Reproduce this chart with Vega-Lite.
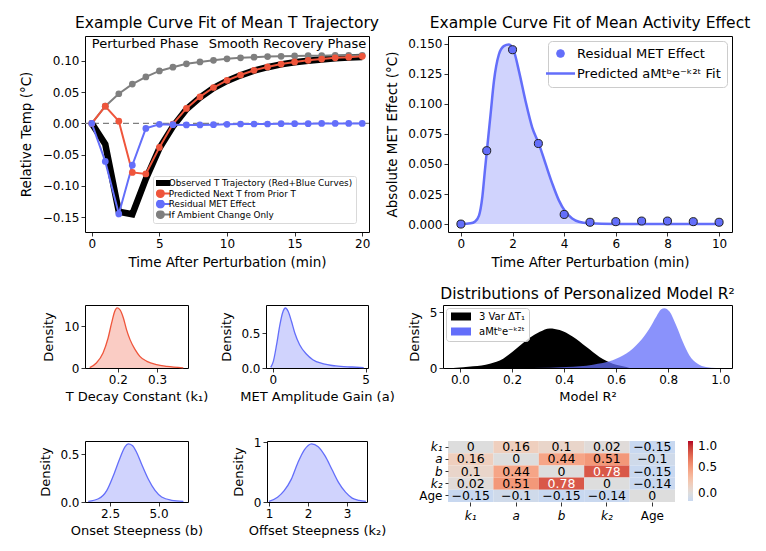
{
"$schema": "https://vega.github.io/schema/vega-lite/v6.json",
"background": "white",
"padding": {"left": 18, "top": 15, "right": 2, "bottom": 2},
"bounds": "flush",
"spacing": 269,
"resolve": {"scale": {"color": "independent"}, "legend": {"color": "independent"}},
"datasets": {
"traj": [
{"t":0,"obs":0,"pred":0,"resid":0,"amb":0},
{"t":1,"obs":-0.0335,"pred":0.0275,"resid":-0.061,"amb":0.0275},
{"t":2,"obs":-0.1415,"pred":0.0035,"resid":-0.145,"amb":0.0475},
{"t":3,"obs":-0.1455,"pred":-0.0785,"resid":-0.067,"amb":0.063},
{"t":4,"obs":-0.089,"pred":-0.081,"resid":-0.008,"amb":0.0745},
{"t":5,"obs":-0.04,"pred":-0.0385,"resid":-0.0015,"amb":0.084},
{"t":6,"obs":-0.005,"pred":-0.001,"resid":-0.002,"amb":0.09},
{"t":7,"obs":0.0225,"pred":0.024,"resid":-0.0025,"amb":0.0955},
{"t":8,"obs":0.0415,"pred":0.0425,"resid":-0.0025,"amb":0.0985},
{"t":9,"obs":0.0565,"pred":0.0575,"resid":-0.002,"amb":0.101},
{"t":10,"obs":0.068,"pred":0.069,"resid":-0.0015,"amb":0.1035},
{"t":11,"obs":0.077,"pred":0.0775,"resid":-0.001,"amb":0.105},
{"t":12,"obs":0.0845,"pred":0.085,"resid":-0.001,"amb":0.106},
{"t":13,"obs":0.09,"pred":0.0905,"resid":-0.001,"amb":0.107},
{"t":14,"obs":0.0945,"pred":0.095,"resid":-0.0005,"amb":0.1075},
{"t":15,"obs":0.098,"pred":0.0985,"resid":-0.0005,"amb":0.108},
{"t":16,"obs":0.1005,"pred":0.101,"resid":-0.0005,"amb":0.1085},
{"t":17,"obs":0.1025,"pred":0.103,"resid":0,"amb":0.1085},
{"t":18,"obs":0.1045,"pred":0.105,"resid":0,"amb":0.109},
{"t":19,"obs":0.1055,"pred":0.106,"resid":0,"amb":0.109},
{"t":20,"obs":0.1065,"pred":0.1075,"resid":0,"amb":0.109}
],
"met": [
{"t":0,"v":0},{"t":1,"v":0.061},{"t":2,"v":0.145},{"t":3,"v":0.067},{"t":4,"v":0.008},{"t":5,"v":0.0015},{"t":6,"v":0.002},{"t":7,"v":0.0025},{"t":8,"v":0.0025},{"t":9,"v":0.002},{"t":10,"v":0.0015}
],
"fit": [
{"t":0,"v":0},{"t":0.37,"v":0.0006},{"t":0.55,"v":0.0022},{"t":0.7,"v":0.007},{"t":0.83,"v":0.0226},{"t":0.93,"v":0.0447},{"t":1.02,"v":0.064},{"t":1.15,"v":0.0915},{"t":1.28,"v":0.119},{"t":1.47,"v":0.141},{"t":1.66,"v":0.148},{"t":1.86,"v":0.1494},{"t":2.05,"v":0.144},{"t":2.25,"v":0.127},{"t":2.5,"v":0.1026},{"t":2.76,"v":0.0805},{"t":3.02,"v":0.0667},{"t":3.28,"v":0.05},{"t":3.54,"v":0.0336},{"t":3.79,"v":0.0199},{"t":4.05,"v":0.0102},{"t":4.31,"v":0.0047},{"t":4.57,"v":0.0019},{"t":4.95,"v":0.0006},{"t":6,"v":0.0001},{"t":8,"v":0},{"t":10,"v":0}
],
"k1": [
{"x":0.128,"y":0.1},{"x":0.145,"y":1.2},{"x":0.162,"y":3.6},{"x":0.175,"y":7.2},{"x":0.184,"y":10.8},{"x":0.192,"y":13.6},{"x":0.198,"y":14.4},{"x":0.205,"y":14.0},{"x":0.214,"y":12.0},{"x":0.222,"y":9.2},{"x":0.231,"y":6.8},{"x":0.244,"y":4.4},{"x":0.256,"y":2.8},{"x":0.274,"y":1.6},{"x":0.299,"y":0.8},{"x":0.325,"y":0.4},{"x":0.367,"y":0.05}
],
"ga": [
{"x":-0.106,"y":0.01},{"x":0.035,"y":0.095},{"x":0.21,"y":0.333},{"x":0.39,"y":0.62},{"x":0.53,"y":0.786},{"x":0.69,"y":0.857},{"x":0.83,"y":0.81},{"x":1.01,"y":0.667},{"x":1.19,"y":0.5},{"x":1.45,"y":0.333},{"x":1.81,"y":0.2},{"x":2.16,"y":0.119},{"x":2.69,"y":0.062},{"x":3.4,"y":0.029},{"x":4.29,"y":0.014},{"x":4.9,"y":0.005}
],
"r2black": [
{"x":-0.026,"y":0},{"x":0.051,"y":0.15},{"x":0.115,"y":0.39},{"x":0.166,"y":0.84},{"x":0.217,"y":1.74},{"x":0.268,"y":2.71},{"x":0.307,"y":3.25},{"x":0.345,"y":3.55},{"x":0.383,"y":3.4},{"x":0.434,"y":2.8},{"x":0.485,"y":1.9},{"x":0.536,"y":0.99},{"x":0.587,"y":0.39},{"x":0.639,"y":0.09},{"x":0.651,"y":0}
],
"r2blue": [
{"x":0.281,"y":0},{"x":0.409,"y":0.09},{"x":0.511,"y":0.3},{"x":0.587,"y":0.69},{"x":0.639,"y":1.29},{"x":0.69,"y":2.35},{"x":0.728,"y":3.55},{"x":0.754,"y":4.6},{"x":0.773,"y":5.27},{"x":0.785,"y":5.36},{"x":0.805,"y":5.06},{"x":0.83,"y":3.85},{"x":0.856,"y":2.35},{"x":0.881,"y":1.15},{"x":0.913,"y":0.39},{"x":0.945,"y":0.09},{"x":0.984,"y":0}
],
"gb": [
{"x":1.38,"y":0.007},{"x":1.9,"y":0.034},{"x":2.33,"y":0.12},{"x":2.67,"y":0.276},{"x":3.02,"y":0.465},{"x":3.27,"y":0.579},{"x":3.44,"y":0.61},{"x":3.65,"y":0.593},{"x":3.88,"y":0.517},{"x":4.13,"y":0.396},{"x":4.47,"y":0.241},{"x":4.82,"y":0.121},{"x":5.16,"y":0.052},{"x":5.68,"y":0.018},{"x":6.28,"y":0.007}
],
"k2": [
{"x":1.0,"y":0.01},{"x":1.22,"y":0.08},{"x":1.39,"y":0.19},{"x":1.57,"y":0.38},{"x":1.74,"y":0.66},{"x":1.91,"y":0.88},{"x":2.09,"y":0.977},{"x":2.26,"y":0.93},{"x":2.44,"y":0.77},{"x":2.61,"y":0.55},{"x":2.78,"y":0.33},{"x":2.96,"y":0.165},{"x":3.13,"y":0.066},{"x":3.31,"y":0.028},{"x":3.48,"y":0.01}
],
"corr": [
{"r":"k₁","c":"k₁","val":0},{"r":"k₁","c":"a","val":0.16},{"r":"k₁","c":"b","val":0.1},{"r":"k₁","c":"k₂","val":0.02},{"r":"k₁","c":"Age","val":-0.15},
{"r":"a","c":"k₁","val":0.16},{"r":"a","c":"a","val":0},{"r":"a","c":"b","val":0.44},{"r":"a","c":"k₂","val":0.51},{"r":"a","c":"Age","val":-0.1},
{"r":"b","c":"k₁","val":0.1},{"r":"b","c":"a","val":0.44},{"r":"b","c":"b","val":0},{"r":"b","c":"k₂","val":0.78},{"r":"b","c":"Age","val":-0.15},
{"r":"k₂","c":"k₁","val":0.02},{"r":"k₂","c":"a","val":0.51},{"r":"k₂","c":"b","val":0.78},{"r":"k₂","c":"k₂","val":0},{"r":"k₂","c":"Age","val":-0.14},
{"r":"Age","c":"k₁","val":-0.15},{"r":"Age","c":"a","val":-0.1},{"r":"Age","c":"b","val":-0.15},{"r":"Age","c":"k₂","val":-0.14},{"r":"Age","c":"Age","val":0}
]
},
"vconcat": [
{
"resolve": {"scale": {"color": "independent"}, "legend": {"color": "independent"}},
"hconcat": [
{
 "width": 284, "height": 196,
 "title": {"text": "Example Curve Fit of Mean T Trajectory", "offset": 5},
 "layer": [
  {"data": {"values": [{"v": 0}]},
   "mark": {"type": "rule", "color": "#7f7f7f", "strokeDash": [6, 4], "strokeWidth": 1.3},
   "encoding": {"y": {"field": "v", "type": "quantitative", "scale": {"domain": [-0.174, 0.14], "nice": false, "zero": false}}}},
  {"data": {"name": "traj"},
   "transform": [{"fold": ["obs"], "as": ["series", "v"]}],
   "mark": {"type": "line", "strokeWidth": 6.5},
   "encoding": {
    "x": {"field": "t", "type": "quantitative", "scale": {"domain": [-0.5, 20.5], "nice": false}, "axis": {"values": [0, 5, 10, 15, 20], "tickCount": 20, "format": "d", "title": "Time After Perturbation (min)", "titlePadding": 6, "titleFontSize": 13.5}},
    "y": {"field": "v", "type": "quantitative", "scale": {"domain": [-0.174, 0.14], "nice": false, "zero": false}, "axis": {"values": [-0.15, -0.1, -0.05, 0, 0.05, 0.1], "tickCount": 20, "format": ".2f", "title": "Relative Temp (°C)", "titlePadding": 9, "titleFontSize": 13.5}},
    "color": {"field": "series", "type": "nominal",
     "scale": {"domain": ["obs", "pred", "resid", "amb"], "range": ["#000000", "#ef553b", "#636efa", "#7f7f7f"]},
     "legend": {"title": null, "orient": "none", "legendX": 68, "legendY": 140, "labelFontSize": 8.8, "labelLimit": 400, "padding": 3, "rowPadding": 1.5, "clipHeight": 8, "fillColor": "rgba(255,255,255,0.85)", "strokeColor": "#d9d9d9", "cornerRadius": 2, "symbolSize": 16, "labelOffset": 4,
      "labelExpr": "datum.label == 'obs' ? 'Observed T Trajectory (Red+Blue Curves)' : datum.label == 'pred' ? 'Predicted Next T from Prior T' : datum.label == 'resid' ? 'Residual MET Effect' : 'If Ambient Change Only'",
      "encode": {"symbols": {"update": {
       "shape": {"signal": "datum.value == 'obs' ? 'M-5,0H5' : 'M-5,0H5M-1.75,0A1.75,1.75,0,1,1,1.75,0A1.75,1.75,0,1,1,-1.75,0Z'"},
       "size": {"value": 16},
       "fill": {"signal": "datum.value == 'obs' ? 'transparent' : datum.value == 'pred' ? '#ef553b' : datum.value == 'resid' ? '#636efa' : '#7f7f7f'"},
       "stroke": {"signal": "datum.value == 'obs' ? '#000000' : datum.value == 'pred' ? '#ef553b' : datum.value == 'resid' ? '#636efa' : '#7f7f7f'"},
       "strokeWidth": {"signal": "datum.value == 'obs' ? 6 : 2"},
       "opacity": {"value": 1}, "fillOpacity": {"value": 1}, "strokeOpacity": {"value": 1}
      }}}}}
   }},
  {"data": {"name": "traj"},
   "transform": [{"fold": ["amb", "pred", "resid"], "as": ["series", "v"]}],
   "mark": {"type": "line", "strokeWidth": 2},
   "encoding": {
    "x": {"field": "t", "type": "quantitative", "scale": {"domain": [-0.5, 20.5], "nice": false}},
    "y": {"field": "v", "type": "quantitative", "scale": {"domain": [-0.174, 0.14], "nice": false, "zero": false}},
    "color": {"field": "series", "type": "nominal", "scale": {"domain": ["obs", "pred", "resid", "amb"], "range": ["#000000", "#ef553b", "#636efa", "#7f7f7f"]}}
   }},
  {"data": {"name": "traj"},
   "transform": [{"fold": ["amb", "pred", "resid"], "as": ["series", "v"]}],
   "mark": {"type": "point", "filled": true, "size": 45, "opacity": 1},
   "encoding": {
    "x": {"field": "t", "type": "quantitative", "scale": {"domain": [-0.5, 20.5], "nice": false}},
    "y": {"field": "v", "type": "quantitative", "scale": {"domain": [-0.174, 0.14], "nice": false, "zero": false}},
    "color": {"field": "series", "type": "nominal", "scale": {"domain": ["obs", "pred", "resid", "amb"], "range": ["#000000", "#ef553b", "#636efa", "#7f7f7f"]}}
   }},
  {"data": {"values": [{"t": 0, "v": 0.1265, "label": "Perturbed Phase"}]},
   "mark": {"type": "text", "align": "left", "baseline": "middle", "fontSize": 13, "color": "#000"},
   "encoding": {
    "x": {"field": "t", "type": "quantitative"},
    "y": {"field": "v", "type": "quantitative"},
    "text": {"field": "label"}
   }},
  {"data": {"values": [{"t": 20.3, "v": 0.1265, "label": "Smooth Recovery Phase"}]},
   "mark": {"type": "text", "align": "right", "baseline": "middle", "fontSize": 13, "color": "#000"},
   "encoding": {
    "x": {"field": "t", "type": "quantitative"},
    "y": {"field": "v", "type": "quantitative"},
    "text": {"field": "label"}
   }}
 ]
},
{
 "width": 284, "height": 196,
 "title": {"text": "Example Curve Fit of Mean Activity Effect", "offset": 5},
 "layer": [
  {"data": {"name": "fit"},
   "mark": {"type": "area", "color": "#636efa", "opacity": 0.3, "interpolate": "monotone"},
   "encoding": {
    "x": {"field": "t", "type": "quantitative", "scale": {"domain": [-0.5, 10.5], "nice": false}, "axis": {"values": [0, 2, 4, 6, 8, 10], "tickCount": 20, "format": "d", "title": "Time After Perturbation (min)", "titlePadding": 6, "titleFontSize": 13.5}},
    "y": {"field": "v", "type": "quantitative", "scale": {"domain": [-0.0066, 0.1564], "nice": false, "zero": false}, "axis": {"values": [0, 0.025, 0.05, 0.075, 0.1, 0.125, 0.15], "tickCount": 20, "format": ".3f", "title": "Absolute MET Effect (°C)", "titlePadding": 8, "titleFontSize": 13.5}}
   }},
  {"data": {"name": "fit"},
   "mark": {"type": "line", "strokeWidth": 2.5, "interpolate": "monotone", "color": "#636efa"},
   "encoding": {
    "x": {"field": "t", "type": "quantitative", "scale": {"domain": [-0.5, 10.5], "nice": false}},
    "y": {"field": "v", "type": "quantitative", "scale": {"domain": [-0.0066, 0.1564], "nice": false, "zero": false}},
    "color": {"datum": "Predicted aMtᵇe⁻ᵏ²ᵗ Fit", "type": "nominal",
     "scale": {"domain": ["Residual MET Effect", "Predicted aMtᵇe⁻ᵏ²ᵗ Fit"], "range": ["#636efa", "#636efa"]},
     "legend": {"title": null, "orient": "top-right", "offset": 5, "labelFontSize": 13, "labelLimit": 400, "fillColor": "white", "strokeColor": "#cccccc", "cornerRadius": 4, "padding": 6, "rowPadding": 6, "labelOffset": 10, "symbolSize": 100,
      "encode": {"symbols": {"update": {
       "shape": {"signal": "datum.value == 'Residual MET Effect' ? 'circle' : 'M-2.9,0H2.9'"},
       "size": {"signal": "datum.value == 'Residual MET Effect' ? 60 : 100"},
       "fill": {"signal": "datum.value == 'Residual MET Effect' ? '#636efa' : 'transparent'"},
       "stroke": {"signal": "datum.value == 'Residual MET Effect' ? '#1f1f1f' : '#636efa'"},
       "strokeWidth": {"signal": "datum.value == 'Residual MET Effect' ? 1 : 2.5"},
       "opacity": {"value": 1}, "fillOpacity": {"value": 1}, "strokeOpacity": {"value": 1}
      }}}}}
   }},
  {"data": {"name": "met"},
   "mark": {"type": "point", "filled": true, "size": 65, "stroke": "#1f1f1f", "strokeWidth": 1, "opacity": 1},
   "encoding": {
    "x": {"field": "t", "type": "quantitative", "scale": {"domain": [-0.5, 10.5], "nice": false}},
    "y": {"field": "v", "type": "quantitative", "scale": {"domain": [-0.0066, 0.1564], "nice": false, "zero": false}},
    "color": {"datum": "Residual MET Effect", "type": "nominal", "scale": {"domain": ["Residual MET Effect", "Predicted aMtᵇe⁻ᵏ²ᵗ Fit"], "range": ["#636efa", "#636efa"]}}
   }}
 ]
}
],
"spacing": 79,
"bounds": "flush"
},
{
"resolve": {"scale": {"color": "independent"}, "legend": {"color": "independent"}},
"vconcat": [
{
"resolve": {"scale": {"color": "independent"}, "legend": {"color": "independent"}},
"hconcat": [
{
 "width": 103, "height": 63,
 "data": {"name": "k1"},
 "encoding": {
  "x": {"field": "x", "type": "quantitative", "scale": {"domain": [0.116, 0.379], "nice": false, "zero": false}, "axis": {"values": [0.2, 0.3], "format": ".1f", "title": "T Decay Constant (k₁)", "titlePadding": 5}},
  "y": {"field": "y", "type": "quantitative", "scale": {"domain": [0, 15.1], "nice": false}, "axis": {"values": [0, 10], "format": "d", "title": "Density", "titlePadding": 8}}
 },
 "layer": [
  {"mark": {"type": "area", "color": "#ef553b", "opacity": 0.3, "interpolate": "monotone"}},
  {"mark": {"type": "line", "color": "#ef553b", "strokeWidth": 1.3, "interpolate": "monotone"}}
 ]
},
{
"resolve": {"scale": {"color": "independent"}, "legend": {"color": "independent"}},
"hconcat": [
{
 "width": 102, "height": 63,
 "data": {"name": "ga"},
 "encoding": {
  "x": {"field": "x", "type": "quantitative", "scale": {"domain": [-0.36, 5.13], "nice": false, "zero": false}, "axis": {"values": [0, 5], "format": "d", "title": "MET Amplitude Gain (a)", "titlePadding": 5}},
  "y": {"field": "y", "type": "quantitative", "scale": {"domain": [0, 0.9], "nice": false}, "axis": {"values": [0, 0.5], "format": ".1f", "title": "Density", "titlePadding": 7}}
 },
 "layer": [
  {"mark": {"type": "area", "color": "#636efa", "opacity": 0.3, "interpolate": "monotone"}},
  {"mark": {"type": "line", "color": "#636efa", "strokeWidth": 1.3, "interpolate": "monotone"}}
 ]
},
{
 "width": 289, "height": 63,
 "title": {"text": "Distributions of Personalized Model R²", "offset": 3},
 "layer": [
  {"data": {"name": "r2black"},
   "mark": {"type": "area", "opacity": 1, "interpolate": "monotone", "color": "#000000"},
   "encoding": {
    "x": {"field": "x", "type": "quantitative", "scale": {"domain": [-0.065, 1.045], "nice": false, "zero": false}, "axis": {"values": [0, 0.2, 0.4, 0.6, 0.8, 1.0], "tickCount": 20, "format": ".1f", "title": "Model R²", "titlePadding": 5}},
    "y": {"field": "y", "type": "quantitative", "scale": {"domain": [0, 5.65], "nice": false}, "axis": {"values": [0, 5], "format": "d", "title": "Density", "titlePadding": 8}},
    "color": {"datum": "3 Var ΔT₁", "type": "nominal",
     "scale": {"domain": ["3 Var ΔT₁", "aMtᵇe⁻ᵏ²ᵗ"], "range": ["#000000", "#636efa"]},
     "legend": {"title": null, "orient": "top-left", "offset": 3, "labelFontSize": 10, "fillColor": "rgba(255,255,255,0.8)", "strokeColor": "#cccccc", "cornerRadius": 3, "padding": 4, "rowPadding": 4, "clipHeight": 9, "labelOffset": 7, "symbolType": "M-1,-0.4H1V0.4H-1Z", "symbolSize": 400,
      "encode": {
       "symbols": {"update": {
        "fill": {"signal": "datum.value == '3 Var ΔT₁' ? '#000000' : 'rgba(99,110,250,0.75)'"},
        "stroke": {"signal": "datum.value == '3 Var ΔT₁' ? '#000000' : '#636efa'"},
        "strokeWidth": {"value": 1},
        "opacity": {"value": 1}, "fillOpacity": {"value": 1}, "strokeOpacity": {"value": 1}
       }},
       "labels": {"update": {"fontStyle": {"signal": "datum.value == '3 Var ΔT₁' ? 'normal' : 'italic'"}}}
      }}}
   }},
  {"data": {"name": "r2blue"},
   "mark": {"type": "area", "opacity": 0.75, "interpolate": "monotone", "color": "#636efa"},
   "encoding": {
    "x": {"field": "x", "type": "quantitative", "scale": {"domain": [-0.065, 1.045], "nice": false, "zero": false}},
    "y": {"field": "y", "type": "quantitative", "scale": {"domain": [0, 5.65], "nice": false}},
    "color": {"datum": "aMtᵇe⁻ᵏ²ᵗ", "type": "nominal", "scale": {"domain": ["3 Var ΔT₁", "aMtᵇe⁻ᵏ²ᵗ"], "range": ["#000000", "#636efa"]}}
   }}
 ]
}
],
"spacing": 75,
"bounds": "flush"
}
],
"spacing": 78,
"bounds": "flush"
},
{
"resolve": {"scale": {"color": "independent"}, "legend": {"color": "independent"}},
"hconcat": [
{
 "width": 103, "height": 61,
 "data": {"name": "gb"},
 "encoding": {
  "x": {"field": "x", "type": "quantitative", "scale": {"domain": [1.21, 6.52], "nice": false, "zero": false}, "axis": {"values": [2.5, 5], "format": ".1f", "title": "Onset Steepness (b)", "titlePadding": 5}},
  "y": {"field": "y", "type": "quantitative", "scale": {"domain": [0, 0.64], "nice": false}, "axis": {"values": [0, 0.5], "format": ".1f", "title": "Density", "titlePadding": 7}}
 },
 "layer": [
  {"mark": {"type": "area", "color": "#636efa", "opacity": 0.3, "interpolate": "monotone"}},
  {"mark": {"type": "line", "color": "#636efa", "strokeWidth": 1.3, "interpolate": "monotone"}}
 ]
},
{
"resolve": {"scale": {"color": "independent"}, "legend": {"color": "independent"}},
"hconcat": [
{
 "width": 100, "height": 61,
 "data": {"name": "k2"},
 "encoding": {
  "x": {"field": "x", "type": "quantitative", "scale": {"domain": [0.95, 3.51], "nice": false, "zero": false}, "axis": {"values": [1, 2, 3], "tickCount": 20, "format": "d", "title": "Offset Steepness (k₂)", "titlePadding": 5}},
  "y": {"field": "y", "type": "quantitative", "scale": {"domain": [0, 1.025], "nice": false}, "axis": {"values": [0, 1], "format": "d", "title": "Density", "titlePadding": 8}}
 },
 "layer": [
  {"mark": {"type": "area", "color": "#636efa", "opacity": 0.3, "interpolate": "monotone"}},
  {"mark": {"type": "line", "color": "#636efa", "strokeWidth": 1.3, "interpolate": "monotone"}}
 ]
},
{
 "width": 227, "height": 61,
 "view": {"stroke": null},
 "data": {"name": "corr"},
 "encoding": {
  "x": {"field": "c", "type": "nominal", "sort": ["k₁", "a", "b", "k₂", "Age"], "scale": {"paddingInner": 0, "paddingOuter": 0},
   "axis": {"title": null, "labelAngle": 0, "ticks": true, "tickSize": 4, "labelPadding": 4, "labelFontStyle": {"condition": {"test": "datum.value == 'Age'", "value": "normal"}, "value": "italic"}}},
  "y": {"field": "r", "type": "nominal", "sort": ["k₁", "a", "b", "k₂", "Age"], "scale": {"paddingInner": 0, "paddingOuter": 0},
   "axis": {"title": null, "ticks": true, "tickSize": 3, "labelPadding": 3, "labelFontStyle": {"condition": {"test": "datum.value == 'Age'", "value": "normal"}, "value": "italic"}}}
 },
 "layer": [
  {"mark": {"type": "rect"},
   "encoding": {"color": {"field": "val", "type": "quantitative",
    "scale": {"domain": [-0.15, 0, 0.125, 0.25, 0.375, 0.5, 0.625, 0.75, 0.875, 1], "range": ["#c8d8f0", "#dddddd", "#ecd3c5", "#f5c4ac", "#f7b194", "#f49a7b", "#ec7f63", "#de604d", "#cb3e38", "#b40426"]},
    "legend": {"title": null, "orient": "right", "offset": 13, "direction": "vertical", "gradientLength": 60, "gradientThickness": 5, "values": [0, 0.5, 1], "format": ".1f", "labelFontSize": 12, "labelOffset": 5, "gradientStrokeWidth": 0}}}},
  {"mark": {"type": "text", "fontSize": 12.5},
   "encoding": {"text": {"field": "val", "type": "quantitative", "format": ".2~f"},
    "color": {"condition": {"test": "datum.val > 0.6", "value": "white"}, "value": "black"}}}
 ]
}
],
"spacing": 81,
"bounds": "flush"
}
],
"spacing": 79,
"bounds": "flush"
}
],
"spacing": 136,
"bounds": "flush"
}
],
"config": {
 "font": "DejaVu Sans",
 "view": {"stroke": "#000000", "strokeWidth": 1},
 "axis": {"domain": false, "grid": false, "ticks": true, "tickColor": "#000", "tickSize": 4, "tickWidth": 0.8, "labelColor": "#000", "labelFontSize": 12, "labelPadding": 2, "titleColor": "#000", "titleFontSize": 13, "titleFontWeight": "normal", "labelFlush": false, "labelBound": false},
 "title": {"fontSize": 15.5, "fontWeight": "normal", "color": "#000", "anchor": "middle", "frame": "group"},
 "legend": {"labelColor": "#000", "labelFont": "DejaVu Sans"},
 "text": {"font": "DejaVu Sans"}
}
}
